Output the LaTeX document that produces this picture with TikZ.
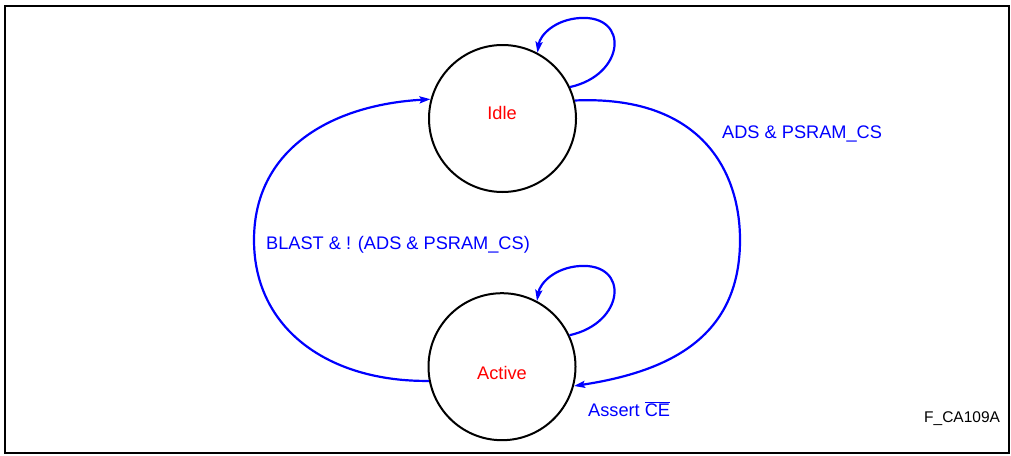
\documentclass[tikz,border=0pt]{standalone}
\usepackage{fontspec}
\setmainfont{Liberation Sans}
\usetikzlibrary{arrows.meta}
\definecolor{edgeblue}{RGB}{0,0,255}
\definecolor{statered}{RGB}{255,0,0}
\tikzset{
  statecircle/.style={circle, draw=black, line width=2pt, minimum size=147pt, inner sep=0pt},
  statetext/.style={text=statered, font=\fontsize{18.2}{20}\selectfont, anchor=base, inner sep=0pt},
  transition/.style={draw=edgeblue, line width=2.2pt, -{Stealth[length=11pt,width=7pt,inset=2pt]}},
  edgetext/.style={text=edgeblue, font=\fontsize{18.2}{20}\selectfont, anchor=base west, inner sep=0pt},
  frame/.style={draw=black, line width=1.8pt}
}
\begin{document}
\begin{tikzpicture}[x=1pt,y=-1pt]
\useasboundingbox (0,0) rectangle (1011,455);
\draw[frame] (5,6) rectangle (1009,453);

\node[statecircle] (idle) at (502.5,118.5) {};
\node[statecircle] (active) at (502,366.7) {};
\node[statetext] (idlelbl) at (502,119.5) {Idle};
\node[statetext] (activelbl) at (502,379) {Active};

% Idle self loop
\draw[transition] (idle.25) .. controls (625,75) and (630,15) .. (580,18)
  .. controls (555,19.5) and (540,35) .. (idle.62.6);
% Active self loop
\draw[transition] (active.25) .. controls (625,323) and (630,263) .. (580,266)
  .. controls (555,267.5) and (540,283) .. (active.62.7);
% Idle -> Active
\draw[transition] (idle.14.3) .. controls (700,95) and (740,170) .. (740,240)
  .. controls (740,330) and (680,370) .. (active.-15);
% Active -> Idle
\draw[transition] (active.191.5) .. controls (330,382) and (254,330) .. (254,240)
  .. controls (254,150) and (330,105) .. (idle.165.5);

\node[edgetext] (lblads) at (722,138) {ADS \& PSRAM\_CS};
\node[edgetext] (lblblast) at (266,249) {BLAST \& ! (ADS \& PSRAM\_CS)};
\node[edgetext] (lblassert) at (588,416.5) {Assert $\overline{\mbox{CE}}$};
\node[anchor=base west, inner sep=0pt, font=\fontsize{15.5}{18}\selectfont] (figid) at (924,422) {F\_CA109A};
\end{tikzpicture}
\end{document}
